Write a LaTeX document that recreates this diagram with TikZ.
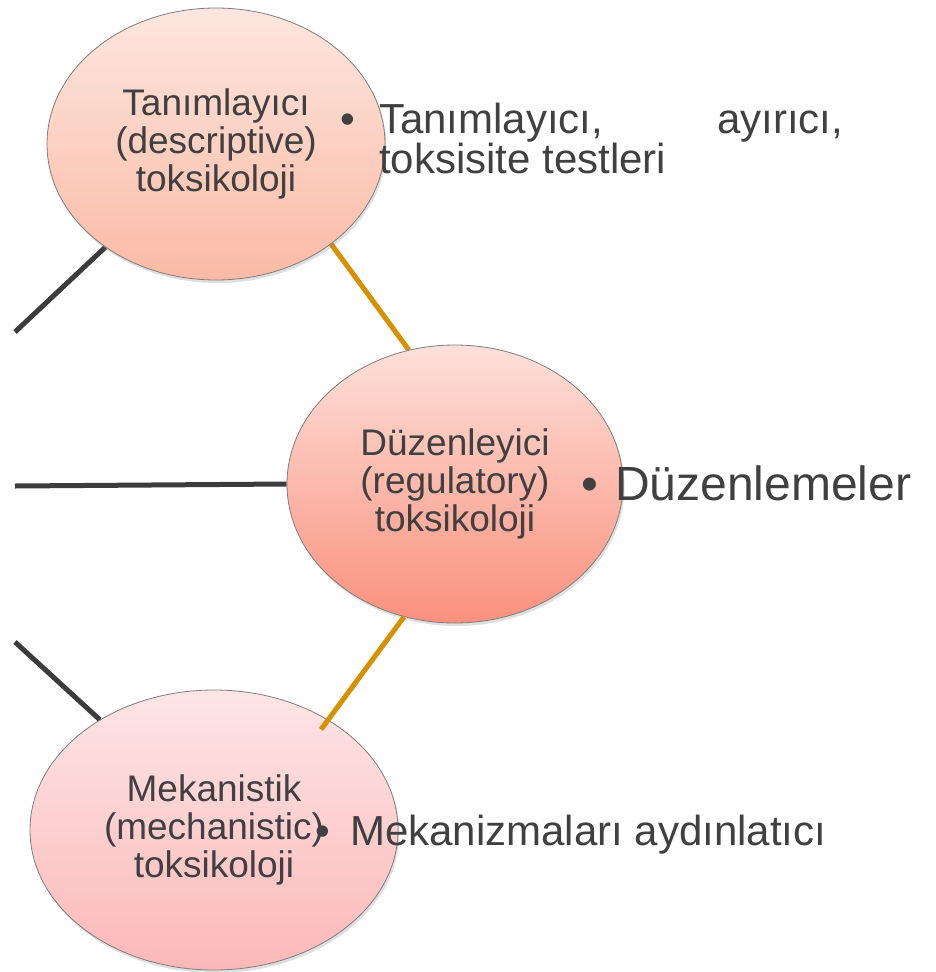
\documentclass[tikz,border=0pt]{standalone}
\usepackage{fontspec}
\setmainfont{Liberation Sans}
\usetikzlibrary{shapes.geometric,shadows,backgrounds}
\definecolor{txt}{RGB}{64,64,64}
\definecolor{darkline}{RGB}{60,60,60}
\definecolor{orangeline}{RGB}{214,144,0}
\definecolor{edge}{RGB}{125,125,125}
\definecolor{aTop}{RGB}{253,230,224}
\definecolor{aBot}{RGB}{251,186,165}
\definecolor{bTop}{RGB}{253,224,218}
\definecolor{bBot}{RGB}{250,145,125}
\definecolor{cTop}{RGB}{253,229,231}
\definecolor{cBot}{RGB}{252,184,184}
\tikzset{
  bubble/.style={ellipse, draw=edge, line width=0.8pt, inner sep=0pt,
    align=center, text=txt, font=\fontsize{37}{38}\selectfont,
    drop shadow={shadow xshift=1.5pt, shadow yshift=-3pt, opacity=0.25}},
  sidetext/.style={inner sep=0pt, text=txt},
  bul/.style={inner sep=0pt, text=txt, anchor=base},
  darkconn/.style={draw=darkline, line width=5pt},
  orangeconn/.style={draw=orangeline, line width=5pt},
}
\begin{document}
\begin{tikzpicture}[x=1pt,y=-1pt]
\useasboundingbox (0,0) rectangle (936,972);

\node[bubble, minimum width=338pt, minimum height=272pt, top color=aTop, bottom color=aBot]
  (e1) at (216,144) {Tanımlayıcı\\(descriptive)\\toksikoloji};
\node[bubble, minimum width=336pt, minimum height=278pt, top color=bTop, bottom color=bBot]
  (e2) at (455,484) {Düzenleyici\\(regulatory)\\toksikoloji};
\node[bubble, minimum width=368pt, minimum height=280pt, top color=cTop, bottom color=cBot]
  (e3) at (214,830) {Mekanistik\\(mechanistic)\\toksikoloji};

\coordinate (f1) at (15,332);
\coordinate (f2) at (15,486);
\coordinate (f3) at (15,642);

\begin{scope}[on background layer]
\fill[white] (0,0) rectangle (936,972);
\draw[darkconn] (f1) -- (e1.223);
\draw[darkconn] (f2) -- (e2.180);
\draw[darkconn] (f3) -- (e3.136);
\draw[orangeconn] (e1.319) -- (e2.109);
\end{scope}
\draw[orangeconn, shorten >=-12pt] (e2.249) -- (e3.44);

\node[bul, font=\fontsize{42}{39}\selectfont] (b1) at (348,133) {•};
\node[sidetext, anchor=north west, align=left, font=\fontsize{42}{39}\selectfont] (t1) at (379,103)
  {\hbox to 464pt{Tanımlayıcı,\hfill ayırıcı,}\\toksisite testleri};

\node[bul, font=\fontsize{48}{50}\selectfont] (b2) at (590,500) {•};
\node[sidetext, anchor=base west, font=\fontsize{48}{50}\selectfont] (t2) at (615,500) {Düzenlemeler};

\node[bul, font=\fontsize{42}{44}\selectfont] (b3) at (323,845) {•};
\node[sidetext, anchor=base west, font=\fontsize{42}{44}\selectfont] (t3) at (350,845) {Mekanizmaları aydınlatıcı};
\end{tikzpicture}
\end{document}
